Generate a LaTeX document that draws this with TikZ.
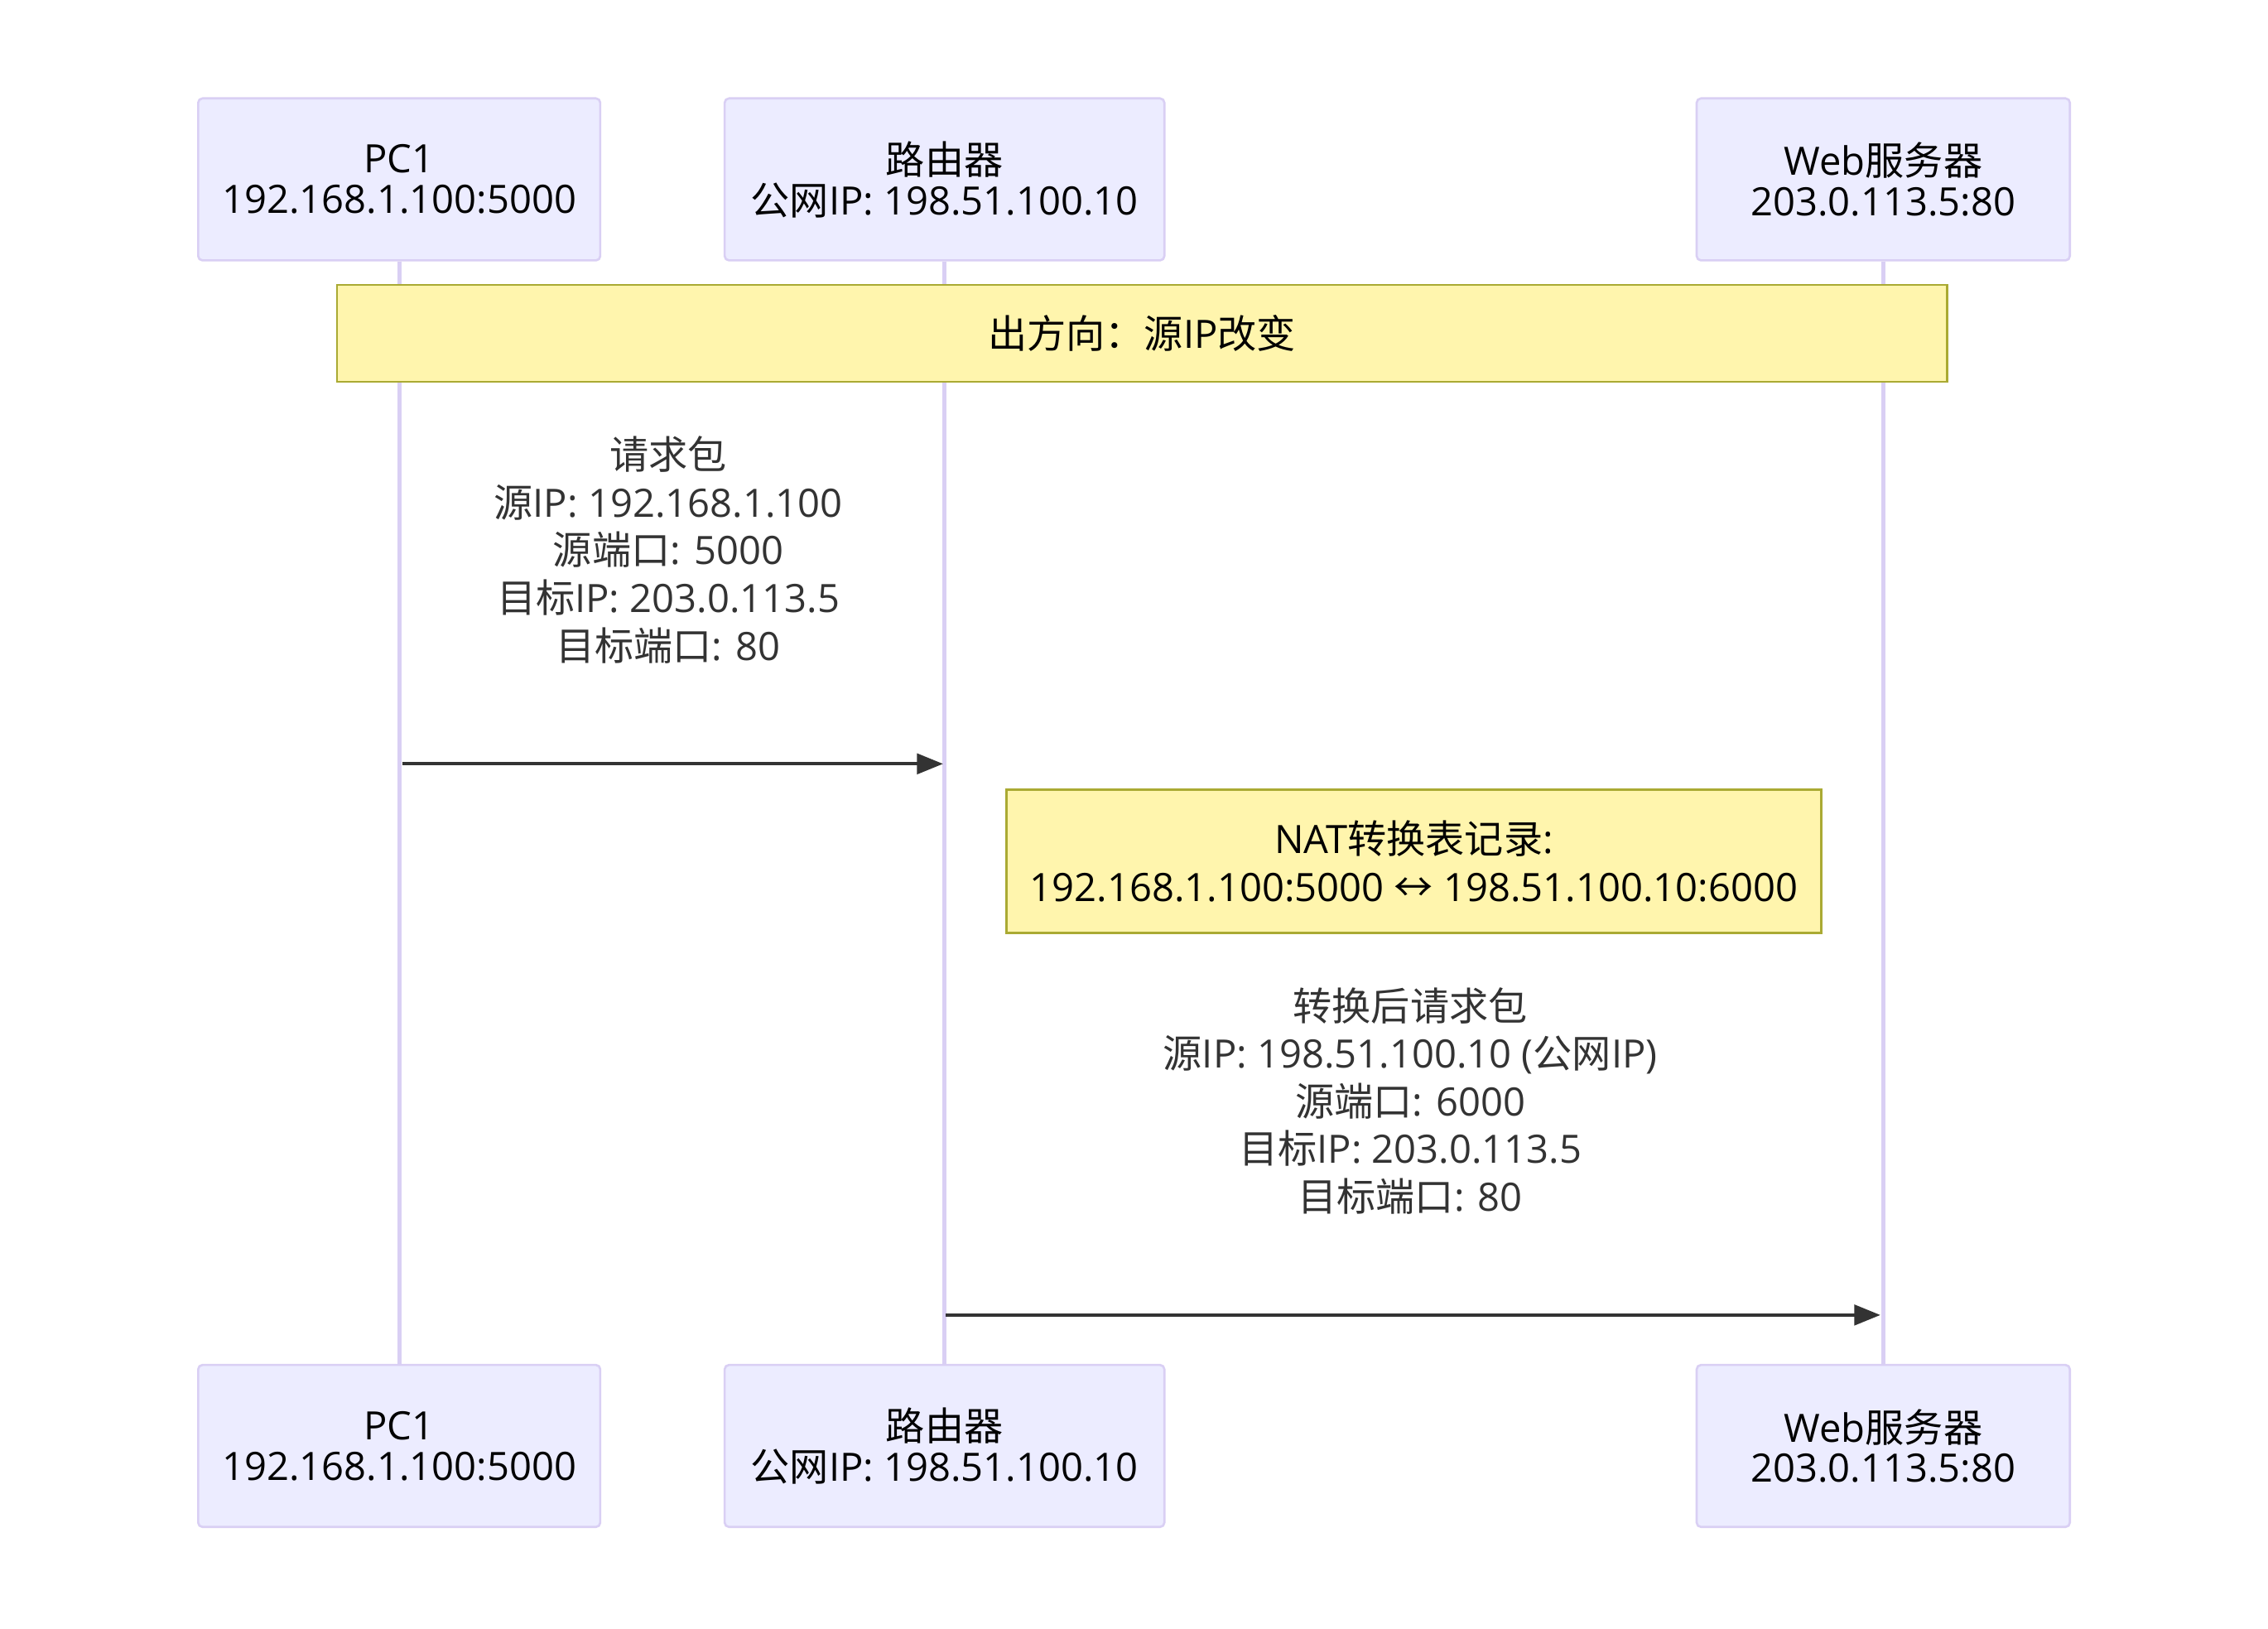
\documentclass[tikz,border=0pt]{standalone}
\usepackage{fontspec}
\setmainfont{Open Sans}
\newfontfamily\cjk{Noto Sans CJK SC}
\usetikzlibrary{arrows.meta}
\definecolor{actorfill}{HTML}{ECECFF}
\definecolor{actorline}{HTML}{D9CFF4}
\definecolor{notefill}{HTML}{FFF5AD}
\definecolor{noteline}{HTML}{AAAA33}
\definecolor{msgtext}{HTML}{333333}
\tikzset{
  actor/.style={draw=actorline, fill=actorfill, line width=1.5pt, rounded corners=3pt,
    minimum width=#1, minimum height=112pt, inner sep=0pt, align=center,
    font=\fontsize{27}{28}\selectfont},
  note/.style 2 args={draw=noteline, fill=notefill, line width=1.5pt,
    minimum width=#1, minimum height=#2, inner sep=0pt, align=center,
    font=\fontsize{27}{33}\selectfont},
  msglabel/.style={text=msgtext, align=center, font=\fontsize{27}{33}\selectfont},
  msg/.style={draw=msgtext, line width=2.2pt, -{Triangle[length=18pt,width=14pt]}},
  lifeline/.style={draw=actorline, line width=3pt}
}
\begin{document}
\begin{tikzpicture}[x=1pt, y=-1pt]
\fill[white] (0,0) rectangle (1568,1125.5);
\useasboundingbox (0,0) rectangle (1568,1125.5);
% actors, top and bottom
\node[actor=278pt] (pc1top) at (276,124) {PC1\\192.168.1.100:5000};
\node[actor=304pt] (routertop) at (653,124) {{\cjk 路由器}\\{\cjk 公网}IP: 198.51.100.10};
\node[actor=258pt] (webtop) at (1302,124) {Web{\cjk 服务器}\\203.0.113.5:80};
\node[actor=278pt] (pc1bot) at (276,999.5) {PC1\\192.168.1.100:5000};
\node[actor=304pt] (routerbot) at (653,999.5) {{\cjk 路由器}\\{\cjk 公网}IP: 198.51.100.10};
\node[actor=258pt] (webbot) at (1302,999.5) {Web{\cjk 服务器}\\203.0.113.5:80};
% lifelines
\draw[lifeline] (pc1top) -- (pc1bot);
\draw[lifeline] (routertop) -- (routerbot);
\draw[lifeline] (webtop) -- (webbot);
% notes
\node[note={1113pt}{67pt}] (outnote) at (789.5,230.5) {{\cjk 出方向：源}IP{\cjk 改变}};
\node[note={563pt}{99pt}] (natnote) at (977.5,595.5)
  {NAT{\cjk 转换表记录}:\\192.168.1.100:5000 {\cjk ↔} 198.51.100.10:6000};
% messages
\node[msglabel] (req) at (462,380)
  {{\cjk 请求包}\\{\cjk 源}IP: 192.168.1.100\\{\cjk 源端口}: 5000\\{\cjk 目标}IP: 203.0.113.5\\{\cjk 目标端口}: 80};
\coordinate (m1a) at (278,528);
\coordinate (m1b) at (652,528);
\draw[msg] (m1a) -- (m1b);
\node[msglabel] (natreq) at (975,761)
  {{\cjk 转换后请求包}\\{\cjk 源}IP: 198.51.100.10 ({\cjk 公网}IP)\\{\cjk 源端口}: 6000\\{\cjk 目标}IP: 203.0.113.5\\{\cjk 目标端口}: 80};
\coordinate (m2a) at (654,909);
\coordinate (m2b) at (1300,909);
\draw[msg] (m2a) -- (m2b);
\end{tikzpicture}
\end{document}
